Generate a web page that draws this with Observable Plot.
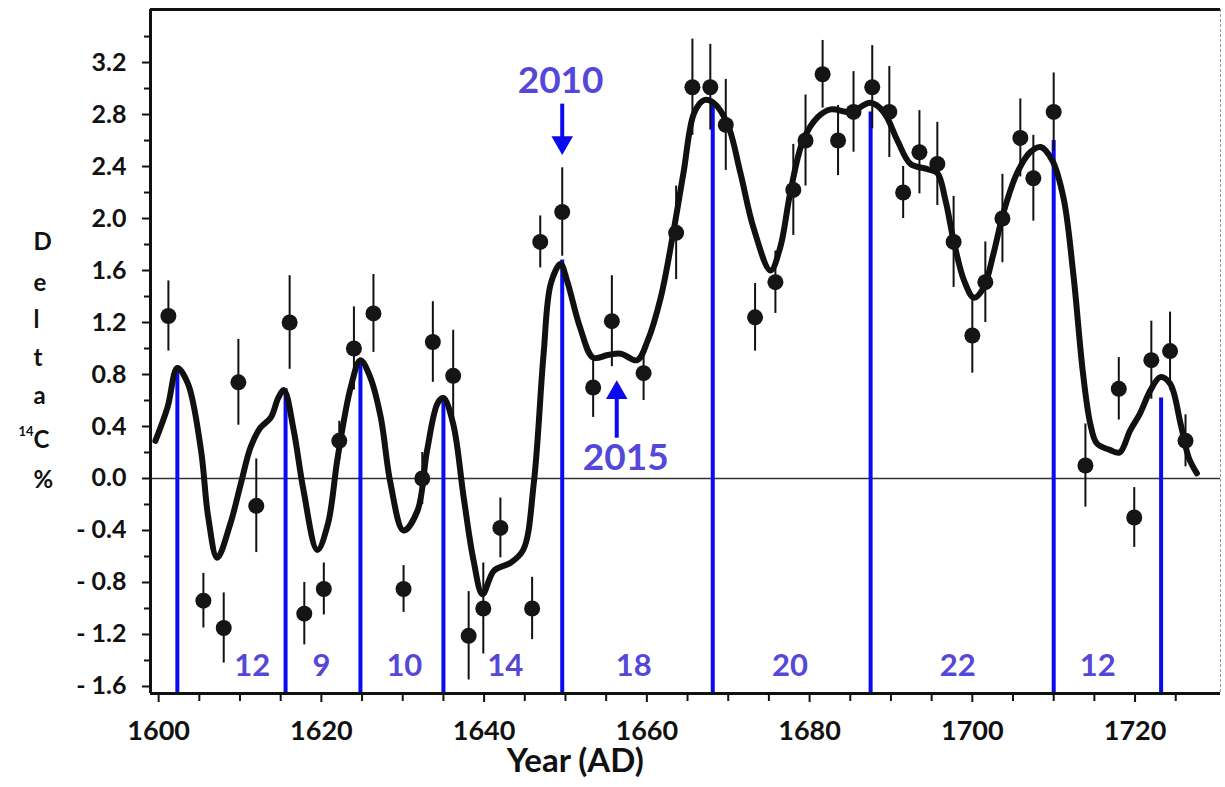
<!DOCTYPE html>
<html><head><meta charset="utf-8">
<script src="https://cdn.jsdelivr.net/npm/d3@7"></script>
<script src="https://cdn.jsdelivr.net/npm/@observablehq/plot@0.6"></script>
<style>
body{margin:0;background:#fff;}
#chart svg{display:block;}
</style></head><body><div id="chart"></div>
<script>
// Measured data points (year, Delta 14C %, error)
const pointYears = [1601.2,1605.5,1608.0,1609.8,1612.0,1616.1,1617.9,1620.3,1622.2,1624.0,1626.4,1630.1,1632.4,1633.7,1636.2,1638.1,1639.9,1642.0,1645.9,1646.9,1649.6,1653.4,1655.7,1659.6,1663.6,1665.6,1667.8,1669.7,1673.3,1675.8,1678.0,1679.5,1681.6,1683.5,1685.4,1687.7,1689.8,1691.5,1693.5,1695.7,1697.7,1700.0,1701.6,1703.7,1705.9,1707.5,1710.0,1713.9,1718.0,1719.9,1722.0,1724.3,1726.2];
const pointValues = [1.25,-0.94,-1.15,0.74,-0.21,1.20,-1.04,-0.85,0.29,1.00,1.27,-0.85,0.00,1.05,0.79,-1.21,-1.00,-0.38,-1.00,1.82,2.05,0.70,1.21,0.81,1.89,3.01,3.01,2.72,1.24,1.51,2.22,2.60,3.11,2.60,2.82,3.01,2.82,2.20,2.51,2.42,1.82,1.10,1.51,2.00,2.62,2.31,2.82,0.10,0.69,-0.30,0.91,0.98,0.29];
const pointErrors = [0.27,0.21,0.27,0.33,0.36,0.36,0.24,0.20,0.15,0.32,0.30,0.18,0.20,0.31,0.35,0.34,0.35,0.23,0.24,0.20,0.34,0.23,0.35,0.21,0.36,0.37,0.33,0.35,0.26,0.24,0.35,0.35,0.26,0.27,0.31,0.32,0.35,0.20,0.32,0.32,0.35,0.29,0.31,0.34,0.30,0.33,0.30,0.32,0.24,0.23,0.30,0.30,0.20];

// Smoothed curve
const curveYears = [1599.6,1601.1,1602.3,1603.6,1605.2,1606.1,1607.2,1608.8,1610.1,1611.3,1612.5,1613.8,1614.7,1615.4,1616.6,1617.8,1619.5,1620.8,1622.0,1623.6,1624.8,1626.0,1627.3,1628.5,1630.1,1631.8,1633.0,1634.3,1635.0,1636.2,1637.5,1638.7,1639.8,1641.2,1643.2,1644.8,1646.1,1647.3,1648.2,1649.4,1650.2,1651.8,1653.4,1655.2,1656.8,1658.8,1660.1,1661.7,1663.3,1664.5,1665.8,1667.0,1668.2,1669.9,1671.5,1673.1,1675.2,1676.4,1677.6,1679.2,1681.0,1682.6,1685.0,1687.5,1689.1,1690.8,1692.4,1694.5,1695.7,1696.7,1697.7,1699.0,1700.2,1701.4,1702.6,1703.8,1705.5,1707.1,1708.4,1709.8,1711.2,1712.4,1713.6,1714.5,1715.3,1716.9,1718.1,1719.4,1720.6,1721.9,1723.1,1724.3,1725.6,1726.6,1727.6];
const curveValues = [0.29,0.55,0.85,0.73,0.22,-0.30,-0.61,-0.35,-0.04,0.24,0.39,0.47,0.62,0.68,0.37,-0.09,-0.55,-0.35,0.16,0.70,0.91,0.78,0.47,-0.04,-0.40,-0.25,0.22,0.58,0.62,0.42,-0.15,-0.63,-0.89,-0.71,-0.65,-0.55,-0.04,0.95,1.50,1.65,1.52,1.16,0.93,0.95,0.96,0.91,1.06,1.39,1.91,2.35,2.81,2.91,2.89,2.73,2.35,1.93,1.60,1.78,2.19,2.60,2.78,2.84,2.82,2.89,2.82,2.60,2.42,2.38,2.35,2.14,1.83,1.52,1.39,1.47,1.73,2.04,2.35,2.51,2.55,2.45,2.16,1.58,0.81,0.42,0.27,0.22,0.20,0.37,0.50,0.68,0.78,0.73,0.42,0.16,0.04];

// Cycle maxima markers (blue lines) and cycle lengths
const maxYears = [1602.3,1615.6,1624.8,1635.0,1649.6,1668.1,1687.5,1710.0,1723.2];
const maxValues = [0.85,0.69,0.92,0.62,1.68,2.91,2.82,2.60,0.62];
const cycleLabels = ["12","9","10","14","18","20","22","12"];
const cycleLabelYears = [1611.5,1620.0,1630.2,1642.6,1658.4,1677.6,1698.2,1715.4];

// Axis ticks
const yMajorTicks = [-1.6,-1.2,-0.8,-0.4,0,0.4,0.8,1.2,1.6,2.0,2.4,2.8,3.2];
const yMinorTicks = [-1.4,-1.0,-0.6,-0.2,0.2,0.6,1.0,1.4,1.8,2.2,2.6,3.0,3.4];
const xMajorTicks = [1600,1620,1640,1660,1680,1700,1720];
const xMinorTicks = [1605,1610,1615,1625,1630,1635,1645,1650,1655,1665,1670,1675,1685,1690,1695,1705,1710,1715,1725];

// Y title letters
const yTitleLetters = ["D","e","l","t","a","C","%"];
const yTitleValues = [1.815,1.50,1.215,0.923,0.631,0.29,-0.015];

// Annotations
const annotTexts = ["2010","2015"];
const annotYears = [1649.4,1657.4];
const annotValues = [3.06,0.16];

const xDom = [1599, 1730.5];
const yDom = [-1.654, 3.608];

const points = pointYears.map((x,i)=>({x, y: pointValues[i], e: pointErrors[i]}));
const curve = curveYears.map((x,i)=>({x, y: curveValues[i]}));
const maxes = maxYears.map((x,i)=>({x, y: maxValues[i]}));
const cycles = cycleLabels.map((t,i)=>({t, x: cycleLabelYears[i]}));
const yTitle = yTitleLetters.map((t,i)=>({t, y: yTitleValues[i]}));
const annots = annotTexts.map((t,i)=>({t, x: annotYears[i], y: annotValues[i]}));

const FONT = "Lato, 'Open Sans', sans-serif";
const txtBlue = "#5548d9";
const lineBlue = "#0a0af0";

const fmt = d => d < 0 ? "- " + Math.abs(d).toFixed(1) : d.toFixed(1);

const plot = Plot.plot({
  width: 1225, height: 787,
  marginLeft: 150, marginRight: 5, marginTop: 9, marginBottom: 94,
  x: {domain: xDom, label: null},
  y: {domain: yDom, label: null},
  style: {fontFamily: FONT, background: "white", color: "#111"},
  marks: [
    Plot.ruleY([0], {stroke: "#333", strokeWidth: 1.5}),
    Plot.ruleX(maxes, {x: "x", y1: yDom[0], y2: "y", stroke: lineBlue, strokeWidth: 4}),
    Plot.ruleX(points, {x: "x", y1: d => d.y - d.e, y2: d => d.y + d.e, stroke: "#111", strokeWidth: 2}),
    Plot.line(curve, {x: "x", y: "y", curve: "catmull-rom", stroke: "#111", strokeWidth: 6, strokeLinejoin: "round", strokeLinecap: "round"}),
    Plot.dot(points, {x: "x", y: "y", r: 8, fill: "#151515", stroke: "none"}),
    Plot.ruleX([xDom[0]], {stroke: "#111", strokeWidth: 3}),
    Plot.ruleY([yDom[0]], {stroke: "#111", strokeWidth: 3}),
    Plot.ruleY([yDom[1]], {stroke: "#111", strokeWidth: 3}),
    Plot.ruleX([xDom[1]], {stroke: "#999", strokeWidth: 1, strokeDasharray: "3,2"}),
    Plot.axisY({ticks: yMajorTicks, tickFormat: fmt, tickSize: 8, tickPadding: 16, fontSize: 25, fontWeight: "bold", strokeWidth: 2, label: null}),
    Plot.axisY({ticks: yMinorTicks, tickFormat: () => "", tickSize: 6, strokeWidth: 2, label: null}),
    Plot.axisX({ticks: xMajorTicks, tickFormat: d => String(d), tickSize: 9, tickPadding: 18, fontSize: 27, fontWeight: "bold", strokeWidth: 2, label: null}),
    Plot.axisX({ticks: xMinorTicks, tickFormat: () => "", tickSize: 8, strokeWidth: 2, label: null}),
    Plot.text(["Year (AD)"], {frameAnchor: "bottom", x: 1651.2, dy: 78, fontSize: 33, fontWeight: "bold", fill: "#111"}),
    Plot.text(yTitle, {frameAnchor: "left", y: "y", text: "t", dx: -117, fontSize: 24, fontWeight: "bold", fill: "#111"}),
    Plot.text(["14"], {frameAnchor: "left", y: 0.36, dx: -132, fontSize: 13, fontWeight: "bold", fill: "#111"}),
    Plot.text(cycles, {x: "x", y: -1.44, text: "t", fontSize: 31, fontWeight: "bold", fill: txtBlue}),
    Plot.text(annots, {x: "x", y: "y", text: "t", fontSize: 37, fontWeight: "bold", fill: txtBlue}),
    Plot.ruleX([1649.6], {y1: 2.88, y2: 2.62, stroke: lineBlue, strokeWidth: 4}),
    Plot.dot([1649.6], {x: d => d, y: 2.585, symbol: "triangle", rotate: 180, r: 8, fill: lineBlue, stroke: "none"}),
    Plot.ruleX([1656.3], {y1: 0.31, y2: 0.62, stroke: lineBlue, strokeWidth: 4}),
    Plot.dot([1656.3], {x: d => d, y: 0.66, symbol: "triangle", r: 8, fill: lineBlue, stroke: "none"})
  ]
});
document.getElementById("chart").appendChild(plot);
</script></body></html>
